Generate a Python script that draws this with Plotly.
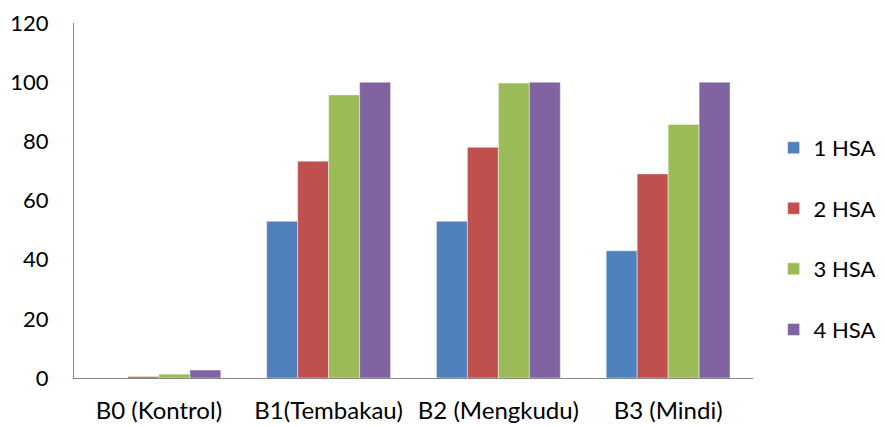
import plotly.graph_objects as go

categories = ["B0 (Kontrol)", "B1(Tembakau)", "B2 (Mengkudu)", "B3 (Mindi)"]
series_names = ["1 HSA", "2 HSA", "3 HSA", "4 HSA"]
hsa1 = [0, 53, 53, 43]
hsa2 = [0.5, 73.3, 78, 69]
hsa3 = [1.3, 95.7, 99.7, 85.7]
hsa4 = [2.7, 100, 100, 100]
colors = ["#4F81BD", "#C0504D", "#9BBB59", "#8064A2"]
y_ticks = [0, 20, 40, 60, 80, 100, 120]

fig = go.Figure()
for i, (name, vals) in enumerate(zip(series_names, [hsa1, hsa2, hsa3, hsa4])):
    fig.add_trace(go.Bar(
        x=categories, y=vals, name=name, legendgroup=name,
        marker=dict(color=colors[i], line=dict(color="rgba(255,255,255,0.45)", width=1)),
    ))

font_family = "Lato, 'Open Sans', sans-serif"
fig.update_layout(
    width=877, height=419,
    margin=dict(l=66, r=132, t=15, b=49),
    paper_bgcolor="white", plot_bgcolor="white",
    barmode="group", bargap=0.27, bargroupgap=0,
    font=dict(family=font_family, size=24, color="#000000"),
    showlegend=True,
    legend=dict(xref="container", yref="container", x=0.873, y=0.449,
                xanchor="left", yanchor="middle", maxheight=1.0,
                font=dict(size=22), tracegroupgap=29, itemwidth=30,
                bgcolor="rgba(0,0,0,0)"),
    xaxis=dict(showline=True, linecolor="#868686", linewidth=1, ticks="",
               showgrid=False, tickfont=dict(size=24), automargin=False,
               ticklabelstandoff=11),
    yaxis=dict(range=[0, 120], tickvals=y_ticks, showline=True, linecolor="#868686",
               linewidth=1, ticks="", showgrid=False, zeroline=False, automargin=False,
               tickfont=dict(size=22), ticklabelstandoff=20,
               ticklabeloverflow="allow"),
)

fig.write_html("out.html")
